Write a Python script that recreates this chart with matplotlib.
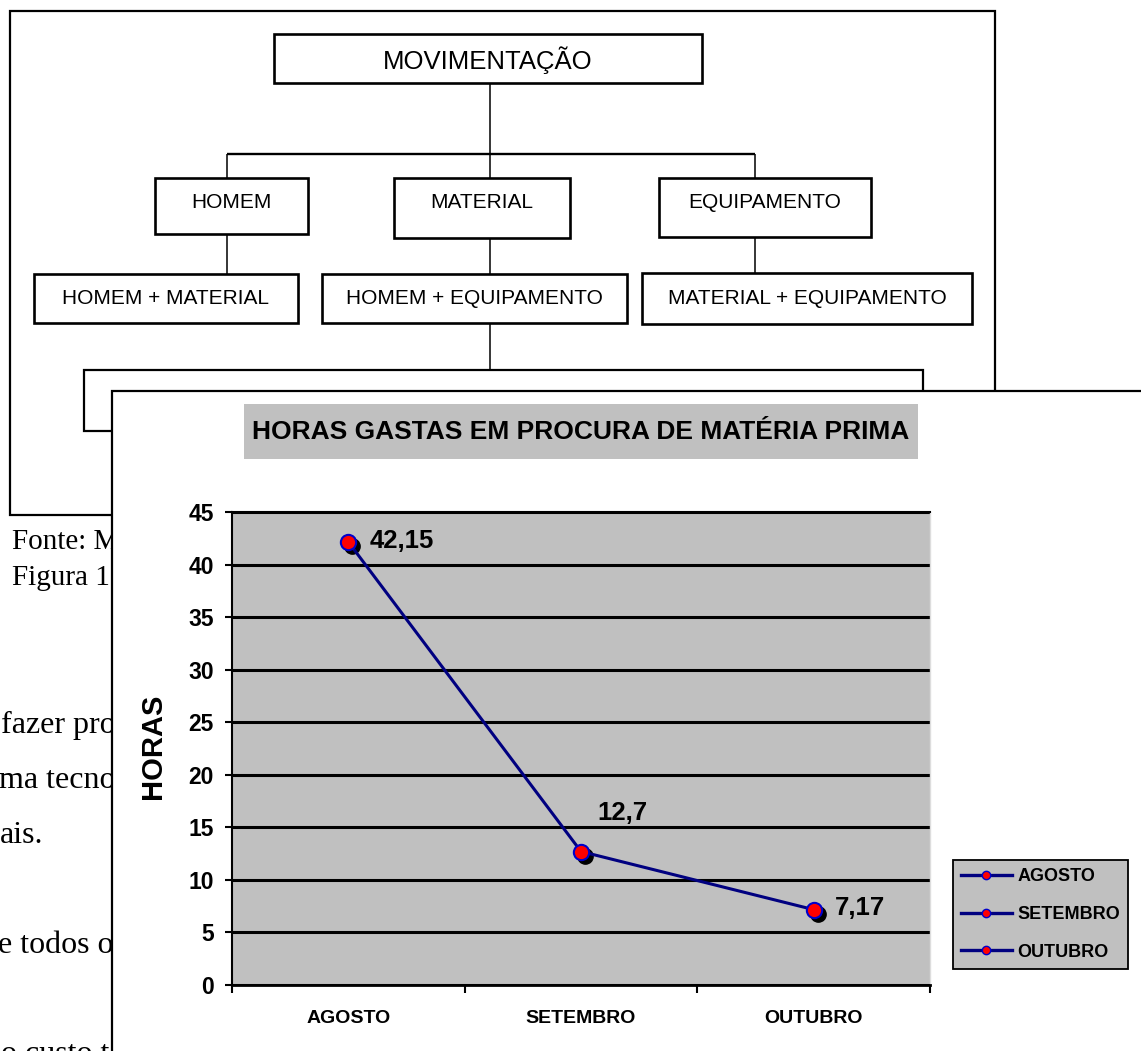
import matplotlib
matplotlib.use('Agg')
import matplotlib.pyplot as plt
from matplotlib.patches import Rectangle
from matplotlib.lines import Line2D
import matplotlib.transforms as mtransforms

plt.rcParams['font.family'] = ['Liberation Sans', 'DejaVu Sans']

# ---------------- data ----------------
categories = ['AGOSTO', 'SETEMBRO', 'OUTUBRO']
hours = [42.15, 12.7, 7.17]
y_ticks = [0, 5, 10, 15, 20, 25, 30, 35, 40, 45]
chart_title = 'HORAS GASTAS EM PROCURA DE MATÉRIA PRIMA'
y_label = 'HORAS'

flow_root = 'MOVIMENTAÇÃO'
flow_level1 = ['HOMEM', 'MATERIAL', 'EQUIPAMENTO']
flow_level2 = ['HOMEM + MATERIAL', 'HOMEM + EQUIPAMENTO', 'MATERIAL + EQUIPAMENTO']
caption_lines = ['Fonte: M', 'Figura 1']
body_lines = ['fazer pro', 'ma tecno', 'ais.', 'e todos o', 'o custo t']

# ---------------- page / background ----------------
W, H = 1141, 1051
fig = plt.figure(figsize=(W / 100, H / 100), dpi=100)
bg = fig.add_axes([0, 0, 1, 1])
bg.set_xlim(0, W)
bg.set_ylim(H, 0)
bg.axis('off')


def rect(x0, y0, x1, y1, lw=1.9, fc='none', z=2, ec='black'):
    bg.add_patch(Rectangle((x0, y0), x1 - x0, y1 - y0, facecolor=fc,
                           edgecolor=ec, lw=lw, zorder=z))


def seg(xs, ys, lw=1.1):
    bg.plot(xs, ys, color='black', lw=lw, solid_capstyle='butt', zorder=1)


# outer frame of the flowchart figure
rect(10, 11, 995, 515, lw=1.6)
# root box
rect(274, 34, 702, 83, fc='white')
bg.text(488, 60, flow_root, ha='center', va='center', fontsize=18.5, zorder=3)
seg([490, 490], [83, 154])
seg([227, 755], [154, 154], lw=1.7)
# level 1
l1_boxes = [(155, 178, 308, 234), (394, 178, 570, 238), (659, 178, 871, 237)]
l1_conn = [227, 490, 755]
for (x0, y0, x1, y1), cx, name in zip(l1_boxes, l1_conn, flow_level1):
    seg([cx, cx], [154, y0])
    rect(x0, y0, x1, y1, fc='white')
    bg.text((x0 + x1) / 2, 203, name, ha='center', va='center', fontsize=15, zorder=3)
    seg([cx, cx], [y1, 274])
# level 2
l2_boxes = [(34, 274, 298, 323), (322, 274, 627, 323), (642, 273, 972, 324)]
for (x0, y0, x1, y1), name in zip(l2_boxes, flow_level2):
    rect(x0, y0, x1, y1, fc='white')
    bg.text((x0 + x1) / 2, 298, name, ha='center', va='center', fontsize=15, zorder=3)
seg([490, 490], [323, 370])
rect(84, 370, 923, 431, lw=1.6)

# page text (partially hidden behind the chart)
for txt, yb in zip(caption_lines, [549, 585]):
    bg.text(12, yb, txt, ha='left', va='baseline', fontsize=21,
            family=['Liberation Serif', 'DejaVu Serif'], zorder=3)
for txt, xb, yb in zip(body_lines, [1, -1, 0, -2, 1], [733, 788, 843, 953, 1062]):
    bg.text(xb, yb, txt, ha='left', va='baseline', fontsize=23,
            family=['Liberation Serif', 'DejaVu Serif'], zorder=3)

# chart sheet
rect(112, 391, W + 20, H + 20, fc='white', z=5, lw=1.6)
rect(244, 404, 918, 459, fc='#C0C0C0', ec='none', z=6, lw=0)
bg.text(581, 432, chart_title, ha='center', va='center', fontsize=19,
        fontweight='bold', zorder=7)

# ---------------- chart ----------------
ax = fig.add_axes([232 / W, 1 - 985 / H, (930 - 232) / W, (985 - 512) / H])
ax.set_facecolor('#C0C0C0')
x = list(range(len(categories)))
ax.set_xlim(-0.5, len(categories) - 0.5)
ax.set_ylim(y_ticks[0], y_ticks[-1])
ax.set_axisbelow(True)
ax.yaxis.grid(True, color='black', lw=2.2)

shadow = mtransforms.offset_copy(ax.transData, fig=fig, x=4, y=-4, units='dots')
ax.plot(x, hours, 'o', color='black', ms=11, transform=shadow, zorder=2.5)
ax.plot(x, hours, color='#000080', lw=2.2, zorder=3)
ax.plot(x, hours, 'o', mfc='red', mec='#0000CC', mew=1.5, ms=11, zorder=4,
        linestyle='none')

offsets = [(15, 1, 'left'), (30, 28, 'center'), (15, 1, 'left')]
for xi, v, (dx, dy, ha) in zip(x, hours, offsets):
    ax.annotate(f'{v:g}'.replace('.', ','), (xi, v), xytext=(dx, dy),
                textcoords='offset points', ha=ha, va='center',
                fontsize=18.5, fontweight='bold', zorder=6)

ax.set_yticks(y_ticks)
ax.set_yticklabels([str(t) for t in y_ticks], fontsize=16.5, fontweight='bold')
ax.set_xticks(x)
ax.set_xticklabels(categories, fontsize=14, fontweight='bold')
ax.set_xticks([i - 0.5 for i in range(len(categories) + 1)], minor=True)
ax.tick_params(axis='y', length=5, width=1.5, pad=8, direction='out')
ax.tick_params(axis='x', which='major', length=0, pad=18)
ax.tick_params(axis='x', which='minor', length=6, width=1.5, direction='out')

ax.set_ylabel(y_label, fontsize=21, fontweight='bold')
ax.yaxis.set_label_coords(-0.093, 0.505)

for s in ['left', 'top']:
    ax.spines[s].set_color('black')
    ax.spines[s].set_linewidth(1.5)
ax.spines['bottom'].set_color('black')
ax.spines['bottom'].set_linewidth(2)
ax.spines['right'].set_color('#DDDDDD')
ax.spines['right'].set_linewidth(1)

handles = [Line2D([], [], color='#000080', lw=2.4, marker='o', ms=6,
                  mfc='red', mec='#0000CC', mew=1) for _ in categories]
leg = fig.legend(handles, categories, loc='upper left',
                 bbox_to_anchor=(953 / W, 1 - 860 / H), frameon=True,
                 fancybox=False, edgecolor='black', facecolor='#C0C0C0',
                 framealpha=1, prop={'size': 13, 'weight': 'bold'},
                 handlelength=2.8, handletextpad=0.3, borderpad=0.45,
                 labelspacing=1.15, borderaxespad=0)
leg.get_frame().set_linewidth(1.3)

fig.savefig('out.png', dpi=100)
